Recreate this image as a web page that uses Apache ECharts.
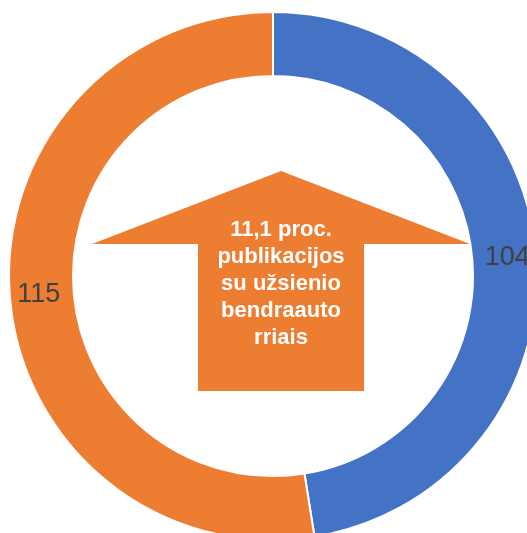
<!DOCTYPE html>
<html>
<head>
<meta charset="utf-8">
<script src="https://cdn.jsdelivr.net/npm/echarts@6/dist/echarts.min.js"></script>
<style>
  html, body { margin: 0; padding: 0; background: #fff; }
  #chart { width: 527px; height: 533px; }
</style>
</head>
<body>
<div id="chart"></div>
<script>
  // share of publications: with / without foreign co-authors
  const categories = ['Su užsienio bendraautoriais', 'Be užsienio bendraautorių']
  const values = [104, 115]
  const colors = ['#4472C4', '#ED7D31']
  const centerText = ['11,1 proc.', 'publikacijos', 'su užsienio', 'bendraauto', 'rriais']

  const chart = echarts.init(document.getElementById('chart'))

  const fontSans = '"Liberation Sans", Arial, sans-serif'

  chart.setOption({
    animation: false,
    series: [
      {
        type: 'pie',
        center: [273, 276],
        radius: [200, 264],
        startAngle: 90,
        clockwise: true,
        silent: true,
        itemStyle: {
          borderColor: '#fff',
          borderWidth: 2,
        },
        label: {
          show: true,
          position: 'inside',
          formatter: '{c}',
          color: '#404040',
          fontSize: 27,
          fontFamily: fontSans,
        },
        labelLine: { show: false },
        data: categories.map((name, i) => ({
          name,
          value: values[i],
          itemStyle: { color: colors[i] },
        })),
      },
    ],
    graphic: [
      {
        type: 'polygon',
        shape: {
          points: [
            [281, 171],
            [470, 244],
            [364, 244],
            [364, 391],
            [198, 391],
            [198, 244],
            [92, 244],
          ],
        },
        style: { fill: '#ED7D31' },
      },
      {
        type: 'text',
        x: 281,
        y: 284,
        style: {
          text: centerText.join('\n'),
          fill: '#fff',
          font: 'bold 22px ' + fontSans,
          lineHeight: 27,
          align: 'center',
          verticalAlign: 'middle',
        },
      },
    ],
  })
</script>
</body>
</html>
